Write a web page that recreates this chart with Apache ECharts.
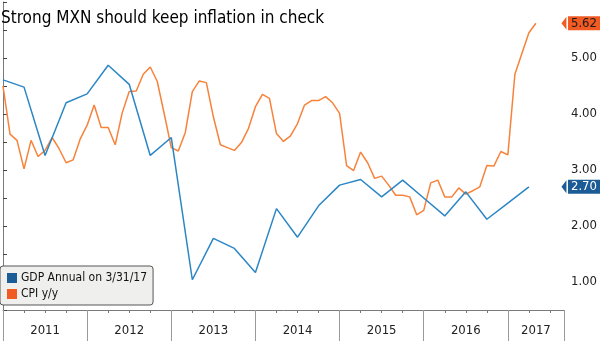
<!DOCTYPE html>
<html><head><meta charset="utf-8">
<script src="https://cdn.jsdelivr.net/npm/echarts@6/dist/echarts.min.js"></script>
<style>html,body{margin:0;padding:0;background:#fff}#c{width:600px;height:341px}</style>
</head><body><div id="c"></div>
<script>
// ---- data ----
const titleText = 'Strong MXN should keep inflation in check';
const seriesNames = ['GDP Annual on 3/31/17', 'CPI y/y'];
const yearLabels = ['2011', '2012', '2013', '2014', '2015', '2016', '2017'];
// quarterly GDP y/y, quarter ends from Q4 2010 to Q1 2017
const gdpValues = [4.61, 4.48, 3.26, 4.20, 4.36, 4.87, 4.53, 3.26, 3.58, 1.04, 1.78, 1.60, 1.17,
  2.31, 1.80, 2.36, 2.73, 2.83, 2.52, 2.82, 2.50, 2.18, 2.61, 2.12, 2.41, 2.70];
// monthly CPI y/y, month ends from Dec 2010 to Apr 2017
const cpiValues = [4.50, 3.64, 3.53, 3.02, 3.53, 3.24, 3.35, 3.58, 3.38, 3.13, 3.18, 3.55,
  3.80, 4.16, 3.76, 3.76, 3.45, 4.02, 4.40, 4.41, 4.71, 4.84, 4.58, 4.00,
  3.40, 3.34, 3.67, 4.40, 4.59, 4.56, 3.95, 3.45, 3.40, 3.35, 3.49, 3.74,
  4.13, 4.35, 4.28, 3.65, 3.51, 3.61, 3.83, 4.16, 4.24, 4.24, 4.31, 4.20,
  4.01, 3.08, 2.99, 3.32, 3.13, 2.85, 2.89, 2.73, 2.55, 2.55, 2.52, 2.20,
  2.28, 2.77, 2.82, 2.52, 2.52, 2.68, 2.57, 2.63, 2.70, 3.08, 3.07, 3.33,
  3.27, 4.71, 5.08, 5.45, 5.62];
const yTickLabels = [1, 2, 3, 4, 5];

// ---- styling ----
const FONT = '"Liberation Sans Narrow", "DejaVu Sans Condensed", sans-serif';
const gdpLine = '#2b86c5', cpiLine = '#f7823a';
const gdpTag = '#1b5c97', cpiTag = '#f15a22';
const xMax = 80; // months since start of 2011 shown on axis

const gdpData = gdpValues.map((v, i) => [i * 3, v]);
const cpiData = cpiValues.map((v, i) => [i, v]);
const yearCenters = yearLabels.map((_, i) => (12 * i + Math.min(12 * (i + 1), xMax)) / 2);

const tagSymbol = 'path://M0,0 L10,0 L5,10 Z';
function tag(value, bg, fg) {
  return {
    silent: true, animation: false,
    symbol: ['none', tagSymbol], symbolSize: [13, 5],
    lineStyle: { width: 0, color: bg, type: 'solid' },
    label: {
      show: true, position: 'end', distance: 4,
      formatter: value.toFixed(2), color: fg, backgroundColor: bg,
      fontFamily: FONT, fontSize: 13, lineHeight: 13, padding: [1, 4, 0, 3]
    },
    emphasis: { disabled: true },
    data: [{ yAxis: value }]
  };
}

const chart = echarts.init(document.getElementById('c'));
chart.setOption({
  animation: false,
  backgroundColor: '#ffffff',
  title: {
    text: titleText, left: 1, top: 10, padding: 0,
    textStyle: { fontFamily: FONT, fontSize: 17, fontWeight: 'normal', color: '#000' }
  },
  legend: {
    orient: 'vertical', left: 0, top: 266,
    backgroundColor: '#eff0ee', borderColor: '#555', borderWidth: 1, borderRadius: 3,
    padding: [6, 6, 5, 7], itemWidth: 10, itemHeight: 10, itemGap: 4,
    icon: 'rect',
    textStyle: { fontFamily: FONT, fontSize: 12, color: '#111', padding: [0, 0, 0, -1] },
    data: [
      { name: seriesNames[0], itemStyle: { color: gdpTag } },
      { name: seriesNames[1], itemStyle: { color: cpiTag } }
    ]
  },
  grid: { left: 0, right: 32, top: 2, bottom: 31 },
  xAxis: [
    {
      type: 'value', position: 'bottom', offset: 0, min: 0, max: xMax, interval: 3,
      axisLine: { lineStyle: { color: '#7a7a7a', width: 1 } },
      axisTick: { length: 3, lineStyle: { color: '#7a7a7a' } },
      axisLabel: { show: false }, splitLine: { show: false }
    },
    {
      type: 'value', position: 'bottom', offset: 0, min: 0, max: xMax, interval: 12,
      axisLine: { show: false },
      axisTick: { length: 31, lineStyle: { color: '#9a9a9a' } },
      axisLabel: { show: false }, splitLine: { show: false }
    },
    {
      type: 'value', position: 'bottom', offset: 0, min: 0, max: xMax, interval: 2,
      axisLine: { show: false }, axisTick: { show: false }, splitLine: { show: false },
      axisLabel: {
        margin: 14, fontFamily: FONT, fontSize: 13, color: '#222',
        showMinLabel: true, showMaxLabel: true,
        formatter: v => { const k = yearCenters.indexOf(v); return k >= 0 ? yearLabels[k] : ''; }
      }
    }
  ],
  yAxis: {
    type: 'value', position: 'right', min: 0.5, max: 6.0, interval: 0.5,
    axisLine: { show: true, lineStyle: { color: '#7a7a7a' } },
    axisTick: { show: true, length: 4, lineStyle: { color: '#444' } },
    splitLine: { show: false },
    axisLabel: {
      margin: 7, fontFamily: FONT, fontSize: 13, color: '#222',
      formatter: v => yTickLabels.includes(v) ? v.toFixed(2) : ''
    }
  },
  series: [
    {
      name: seriesNames[0], type: 'line', data: gdpData, showSymbol: false,
      lineStyle: { color: gdpLine, width: 1.5 }, itemStyle: { color: gdpTag },
      markLine: tag(gdpValues[gdpValues.length - 1], gdpTag, '#ffffff'), z: 3
    },
    {
      name: seriesNames[1], type: 'line', data: cpiData, showSymbol: false,
      lineStyle: { color: cpiLine, width: 1.5 }, itemStyle: { color: cpiTag },
      markLine: tag(cpiValues[cpiValues.length - 1], cpiTag, '#1a1a1a'), z: 2
    }
  ]
});
</script></body></html>
